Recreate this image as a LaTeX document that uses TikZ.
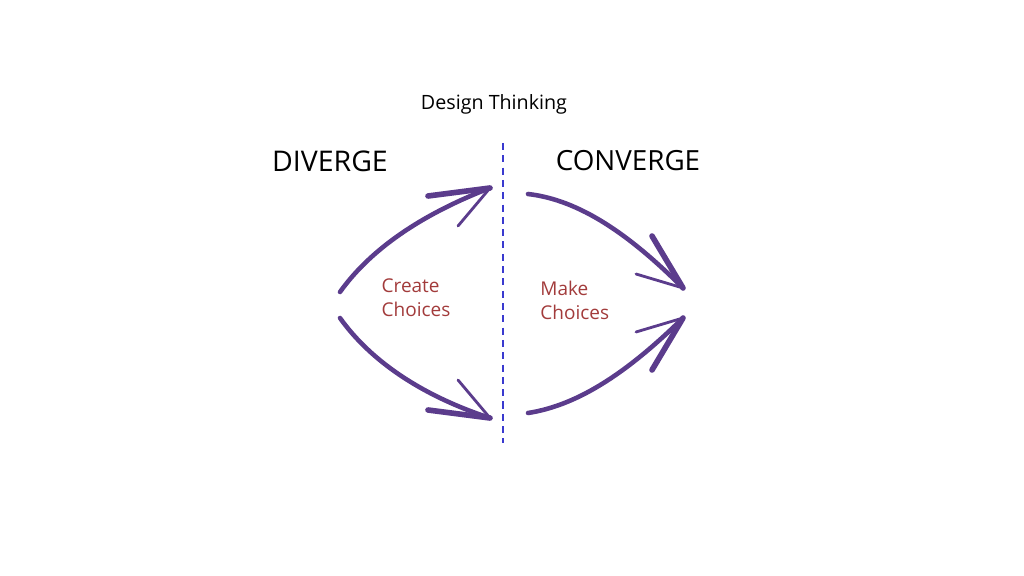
\documentclass[tikz,border=0pt]{standalone}
\usepackage{fontspec}
\setmainfont{Open Sans}
\usepackage{xcolor}
\usetikzlibrary{positioning, calc}
\definecolor{arrowpurple}{HTML}{5B3C8C}
\definecolor{choicered}{HTML}{A23B3B}
\definecolor{lineblue}{HTML}{3A3ACF}
\tikzset{
    swoosh/.style={arrowpurple, line width=1.3pt, line cap=round},
    barbthick/.style={arrowpurple, line width=1.6pt, line cap=round},
    barbthin/.style={arrowpurple, line width=0.8pt, line cap=round},
    heading/.style={font=\fontsize{8.1}{9.5}\selectfont, text=black},
    choice/.style={font=\fontsize{5.4}{6.8}\selectfont, text=choicered, align=left}
}

\begin{document}
\begin{tikzpicture}[x=0.01cm, y=-0.01cm]
    \useasboundingbox (0,0) rectangle (1024,576);

    % Titles
    \node[font=\fontsize{5.6}{7}\selectfont] (title) at (494,104) {Design Thinking};
    \node[heading] (diverge) at (330,161) {DIVERGE};
    \node[heading, font=\fontsize{7.9}{9.5}\selectfont] (converge) at (628,161) {CONVERGE};

    % Divider
    \coordinate (divtop) at (503,143);
    \coordinate (divbot) at (503,443);
    \draw[lineblue, line width=0.5pt, dash pattern=on 2pt off 1.5pt] (divtop) -- (divbot);

    % Labels
    \node[choice] (create) at (416,298) {Create\\Choices};
    \node[choice, anchor=west] (make) at (528,300) {Make\\Choices};

    % Arrow end points
    \coordinate (dstart1) at (340,292);
    \coordinate (dtip1) at (490,188);
    \coordinate (dstart2) at (340,318);
    \coordinate (dtip2) at (490,418);
    \coordinate (cstart1) at (528,194);
    \coordinate (ctip1) at (683,288);
    \coordinate (cstart2) at (528,413);
    \coordinate (ctip2) at (683,318);

    % Diverge arrows
    \draw[swoosh] (dstart1) .. controls (370,250) and (420,215) .. (dtip1);
    \draw[barbthick] (428,196) -- (dtip1);
    \draw[barbthin] (458,226) -- (dtip1);
    \draw[swoosh] (dstart2) .. controls (370,360) and (420,395) .. (dtip2);
    \draw[barbthick] (428,410) -- (dtip2);
    \draw[barbthin] (458,380) -- (dtip2);

    % Converge arrows
    \draw[swoosh] (cstart1) .. controls (580,200) and (630,235) .. (ctip1);
    \draw[barbthick] (652,236) -- (ctip1);
    \draw[barbthin] (636,274) -- (ctip1);
    \draw[swoosh] (cstart2) .. controls (580,405) and (630,370) .. (ctip2);
    \draw[barbthick] (652,370) -- (ctip2);
    \draw[barbthin] (636,332) -- (ctip2);
\end{tikzpicture}
\end{document}
